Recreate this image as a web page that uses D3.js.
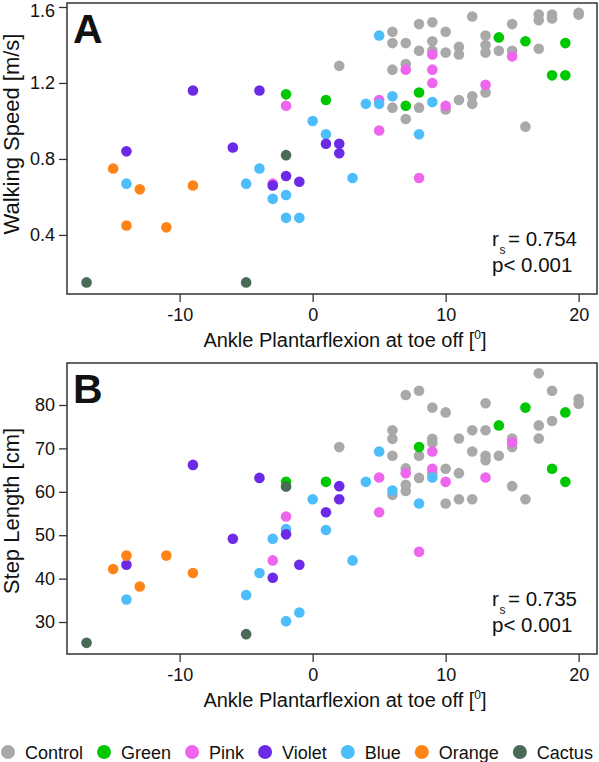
<!DOCTYPE html>
<html>
<head>
<meta charset="utf-8">
<script src="https://cdn.jsdelivr.net/npm/d3@7/dist/d3.min.js"></script>
<style>
  body { margin: 0; background: #fff; }
  svg text { font-family: "Liberation Sans", Arial, Helvetica, sans-serif; fill: #111; }
</style>
</head>
<body>
<div id="chart"></div>
<script>
// Groups and legend labels
var groups = ["Control", "Green", "Pink", "Violet", "Blue", "Orange", "Cactus"];
var groupColors = ["#a9a9a9", "#00c800", "#ee66ee", "#6c2ae6", "#4dbdfc", "#ff8418", "#4b6a55"];

// Tick labels
var ankleTicks = [-10, 0, 10, 20];
var speedTicks = [0.4, 0.8, 1.2, 1.6];
var stepTicks = [30, 40, 50, 60, 70, 80];

// Panel A: [ankle plantarflexion (deg), walking speed (m/s)]
var controlSpeed = [[2,1.29],[6,1.47],[6,1.41],[6,1.27],[6,1.07],[7,1.41],[7,1.30],[7,1.01],[8,1.51],[8,1.37],
  [8,1.07],[9,1.52],[9,1.42],[9,1.37],[10,1.47],[10,1.36],[10,1.06],[11,1.39],[11,1.35],[11,1.11],[12,1.55],
  [12,1.13],[12,1.09],[13,1.45],[13,1.40],[13,1.36],[13,1.15],[14,1.37],[15,1.51],[15,1.37],[16,0.97],
  [17,1.56],[17,1.53],[17,1.38],[18,1.56],[18,1.54],[20,1.57],[20,1.56]];
var greenSpeed = [[-2,1.14],[1,1.11],[7,1.08],[8,1.15],[14,1.44],[16,1.42],[18,1.24],[19,1.24],[19,1.41]];
var pinkSpeed = [[-2,1.08],[-3,0.67],[5,1.11],[5,0.95],[7,1.27],[8,0.70],[9,1.35],[9,1.27],[9,1.20],[10,1.08],
  [13,1.19],[15,1.34]];
var violetSpeed = [[-9,1.16],[-4,1.16],[-14,0.84],[-6,0.86],[-2,0.71],[-3,0.66],[-1,0.68],[1,0.88],[2,0.88],[2,0.83]];
var blueSpeed = [[-14,0.67],[-4,0.75],[-5,0.67],[-3,0.59],[-2,0.61],[-2,0.49],[-1,0.49],[0,1.0],[1,0.93],[3,0.70],
  [4,1.09],[5,1.09],[5,1.45],[6,1.13],[8,0.93],[9,1.10]];
var orangeSpeed = [[-15,0.75],[-14,0.45],[-13,0.64],[-11,0.44],[-9,0.66]];
var cactusSpeed = [[-17,0.15],[-5,0.15],[-2,0.82]];

// Panel B: [ankle plantarflexion (deg), step length (cm)]
var controlStep = [[2,70.3],[6,74.2],[6,72.2],[6,68.3],[6,59.3],[7,82.3],[7,65.4],[7,61.6],[7,60.2],[8,83.3],
  [8,68.3],[8,63.2],[9,79.4],[9,72.2],[9,71.3],[9,64.3],[10,78.3],[10,65.3],[10,57.3],[11,72.3],[11,64.3],
  [11,58.3],[12,74.2],[12,69.3],[12,58.3],[13,80.4],[13,74.2],[13,68.3],[13,67.3],[14,68.3],[15,72.3],
  [15,70.3],[15,61.3],[16,58.3],[17,87.3],[17,75.3],[17,72.3],[18,83.3],[18,76.3],[20,81.4],[20,80.3]];
var greenStep = [[-2,62.3],[1,62.3],[8,70.3],[14,75.3],[16,79.4],[18,65.3],[19,78.3],[19,62.3]];
var pinkStep = [[-2,54.3],[-3,44.2],[5,63.3],[5,55.3],[7,64.3],[8,46.2],[9,69.3],[9,65.3],[10,62.3],[13,63.3],[15,71.4]];
var violetStep = [[-9,66.2],[-4,63.2],[-14,43.2],[-6,49.2],[-3,40.2],[-2,50.2],[-1,43.2],[1,55.3],[2,61.3],[2,58.3]];
var blueStep = [[-14,35.2],[-5,36.2],[-4,41.3],[-3,49.2],[-2,51.4],[-2,30.2],[-1,32.2],[0,58.3],[1,51.2],[3,44.2],
  [4,62.3],[5,69.3],[6,60.3],[8,57.3],[9,63.3]];
var orangeStep = [[-15,42.2],[-14,45.3],[-13,38.2],[-11,45.3],[-9,41.3]];
var cactusStep = [[-17,25.2],[-5,27.2],[-2,61.2]];

var width = 599;
var height = 762;
var plotLeft = 67;
var plotRight = 597;

var svg = d3.select("#chart").append("svg")
  .attr("width", width)
  .attr("height", height);

// Shared x scale for both panels
var x = d3.scaleLinear()
  .domain([-18.47, 21.38])
  .range([plotLeft, plotRight]);

// Draw order: later groups sit on top
var drawOrder = ["Control", "Green", "Pink", "Blue", "Violet", "Orange", "Cactus"];

var panels = [
  {
    letter: "A", top: 3, bottom: 294, yDomain: [0.089, 1.621], ticks: speedTicks, fmt: d3.format(".1f"),
    ylabel: "Walking Speed [m/s]", ylabelY: 134, rs: "0.754",
    series: [controlSpeed, greenSpeed, pinkSpeed, violetSpeed, blueSpeed, orangeSpeed, cactusSpeed]
  },
  {
    letter: "B", top: 363, bottom: 654, yDomain: [22.63, 89.68], ticks: stepTicks, fmt: function (d) { return String(d); },
    ylabel: "Step Length [cm]", ylabelY: 511, rs: "0.735",
    series: [controlStep, greenStep, pinkStep, violetStep, blueStep, orangeStep, cactusStep]
  }
];

panels.forEach(function (p) {
  var y = d3.scaleLinear()
    .domain(p.yDomain)
    .range([p.bottom, p.top]);

  var g = svg.append("g");

  // points
  drawOrder.forEach(function (name) {
    var i = groups.indexOf(name);
    g.selectAll(null)
      .data(p.series[i])
      .enter()
      .append("circle")
      .attr("cx", function (d) { return x(d[0]); })
      .attr("cy", function (d) { return y(d[1]); })
      .attr("r", 5.3)
      .attr("fill", groupColors[i]);
  });

  // box
  g.append("rect")
    .attr("x", plotLeft)
    .attr("y", p.top)
    .attr("width", plotRight - plotLeft)
    .attr("height", p.bottom - p.top)
    .attr("fill", "none")
    .attr("stroke", "#333")
    .attr("stroke-width", 1.5);

  // axes (plain hyphen minus like the original)
  var yAxis = g.append("g")
    .attr("transform", "translate(" + plotLeft + ",0)")
    .call(d3.axisLeft(y).tickValues(p.ticks).tickFormat(p.fmt).tickSize(8).tickPadding(4));
  var xAxis = g.append("g")
    .attr("transform", "translate(0," + p.bottom + ")")
    .call(d3.axisBottom(x).tickValues(ankleTicks).tickFormat(function (d) { return String(d); })
      .tickSize(8).tickPadding(6));

  [yAxis, xAxis].forEach(function (ax) {
    ax.select(".domain").remove();
    ax.selectAll(".tick line").attr("stroke", "#333").attr("stroke-width", 1.3);
    ax.selectAll(".tick text")
      .style("font-size", "18px")
      .style("font-family", "'Liberation Sans', Arial, sans-serif")
      .attr("fill", "#111");
  });

  // keep the top tick label inside the picture
  yAxis.selectAll(".tick text")
    .filter(function (d) { return y(d) < 12; })
    .attr("dy", "0.32em")
    .attr("y", 4);

  // axis titles
  var xt = g.append("text")
    .attr("x", 345)
    .attr("y", p.bottom + 53)
    .attr("text-anchor", "middle")
    .style("font-size", "20px")
    .text("Ankle Plantarflexion at toe off [");
  xt.append("tspan").attr("dy", -8).style("font-size", "12px").text("0");
  xt.append("tspan").attr("dy", 8).text("]");

  g.append("text")
    .attr("transform", "translate(19," + p.ylabelY + ") rotate(-90)")
    .attr("text-anchor", "middle")
    .style("font-size", "22px")
    .text(p.ylabel);

  // panel letter
  g.append("text")
    .attr("x", 73)
    .attr("y", p.top + 40)
    .style("font-size", "41px")
    .style("font-weight", "bold")
    .text(p.letter);

  // correlation annotation
  g.append("text")
    .attr("x", 492)
    .attr("y", p.bottom - 48)
    .style("font-size", "20.5px")
    .text("r");
  g.append("text")
    .attr("x", 499.5)
    .attr("y", p.bottom - 40)
    .style("font-size", "12px")
    .text("s");
  g.append("text")
    .attr("x", 508)
    .attr("y", p.bottom - 48)
    .style("font-size", "20.5px")
    .text("= " + p.rs);

  g.append("text")
    .attr("x", 492)
    .attr("y", p.bottom - 22.5)
    .style("font-size", "20.5px")
    .text("p< 0.001");
});

// legend
var legend = svg.append("g").attr("transform", "translate(0,752)");
var lx = 8;
groups.forEach(function (name, i) {
  legend.append("circle")
    .attr("cx", lx)
    .attr("cy", 0)
    .attr("r", 7)
    .attr("fill", groupColors[i]);
  var t = legend.append("text")
    .attr("x", lx + 17)
    .attr("y", 6.5)
    .style("font-size", "18px")
    .text(name);
  lx = lx + 17 + t.node().getComputedTextLength() + 21;
});
</script>
</body>
</html>
